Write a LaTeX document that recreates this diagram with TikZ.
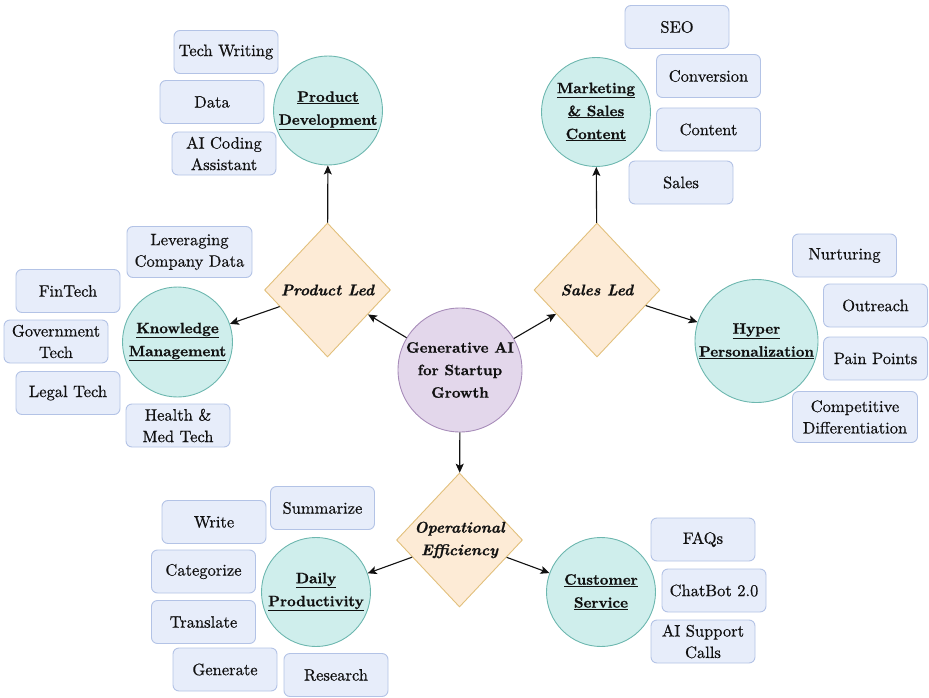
\documentclass[tikz,border=0pt]{standalone}
\usepackage{fontspec}
\setmainfont{lmroman10-regular.otf}[
  BoldFont=lmroman10-bold.otf,
  ItalicFont=lmroman10-italic.otf,
  BoldItalicFont=lmroman10-bolditalic.otf,
  UprightFeatures={FakeBold=0.6},
  BoldFeatures={FakeBold=0.9},
  BoldItalicFeatures={FakeBold=0.9}]
\usetikzlibrary{shapes.geometric,arrows.meta}

\definecolor{boxfill}{HTML}{E7EDFA}
\definecolor{boxline}{HTML}{B3C3E6}
\definecolor{topicfill}{HTML}{CFEEEC}
\definecolor{topicline}{HTML}{6DB7AF}
\definecolor{leadfill}{HTML}{FDEBD6}
\definecolor{leadline}{HTML}{E2C07C}
\definecolor{corefill}{HTML}{E3D7EB}
\definecolor{coreline}{HTML}{A78CB9}
\definecolor{ink}{HTML}{111111}

\newcommand{\ul}[1]{\underline{#1}}

\tikzset{
  x=1pt, y=-1pt,
  every node/.style={text=ink, font=\rmfamily\fontsize{16.5}{21.5}\selectfont},
  item/.style={rectangle, rounded corners=6pt, draw=boxline, fill=boxfill,
    line width=0.9pt, minimum width=104pt, minimum height=43pt,
    inner sep=2pt, align=center},
  wideitem/.style={item, minimum width=125pt, minimum height=51pt},
  topic/.style={circle, draw=topicline, fill=topicfill, line width=0.9pt,
    inner sep=0pt, align=center,
    font=\rmfamily\fontsize{15}{23}\selectfont\bfseries},
  lead/.style={diamond, draw=leadline, fill=leadfill, line width=0.9pt,
    minimum width=126pt, minimum height=134pt, inner sep=0pt},
  leadtext/.style={align=center, text=ink,
    font=\rmfamily\fontsize{15.5}{22.5}\selectfont\bfseries\itshape},
  link/.style={draw=ink, line width=1.1pt,
    -{Stealth[length=9pt, width=8pt, inset=2pt]}}
}

\begin{document}
\begin{tikzpicture}
\useasboundingbox (0,0) rectangle (929,698);

% centre of the map
\node[circle, draw=coreline, fill=corefill, line width=0.9pt,
  minimum size=124pt, inner sep=0pt, align=center,
  font=\rmfamily\fontsize{15}{22.5}\selectfont\bfseries]
  (core) at (460,370) {Generative AI\\for Startup\\Growth};

% strategy diamonds
\node[lead, label={[leadtext]center:Product Led}] (pl) at (327.5,290) {};
\node[lead, label={[leadtext]center:Sales Led}] (sl) at (597,290) {};
\node[lead, label={[leadtext]center:Operational\\Efficiency}] (oe) at (459.5,540) {};

% focus areas
\node[topic, minimum size=109pt] (pd) at (328,110.5) {\ul{Product}\\\ul{Development}};
\node[topic, minimum size=109pt] (ms) at (596,112) {\ul{Marketing}\\\ul{\& Sales}\\\ul{Content}};
\node[topic, minimum size=110pt] (km) at (177.5,342) {\ul{Knowledge}\\\ul{Management}};
\node[topic, minimum size=123pt] (hp) at (756.5,341) {\ul{Hyper}\\\ul{Personalization}};
\node[topic, minimum size=109pt] (dp) at (316,592) {\ul{Daily}\\\ul{Productivity}};
\node[topic, minimum size=109pt] (cs) at (601,592) {\ul{Customer}\\\ul{Service}};

% connectors
\draw[link] (core) -- (pl);
\draw[link] (core) -- (sl);
\draw[link] (core) -- (oe);
\draw[link] (pl) -- (pd);
\draw[link] (pl) -- (km);
\draw[link] (sl) -- (ms);
\draw[link] (sl) -- (hp);
\draw[link] (oe) -- (dp);
\draw[link] (oe) -- (cs);

% product development
\node[item] (tw) at (226,52) {Tech Writing};
\node[item] (da) at (212,102) {Data};
\node[item] (ac) at (224,153.5) {AI Coding\\Assistant};

% marketing & sales content
\node[item] (seo) at (677,27) {SEO};
\node[item] (cv) at (708.5,76) {Conversion};
\node[item] (ct) at (708.5,129.5) {Content};
\node[item] (sa) at (681,182.5) {Sales};

% knowledge management
\node[wideitem] (lcd) at (189.5,252) {Leveraging\\Company Data};
\node[item] (ft) at (68,291) {FinTech};
\node[item] (gt) at (56,341.5) {Government\\Tech};
\node[item] (lt) at (68,393) {Legal Tech};
\node[item] (hm) at (178,425.5) {Health \&\\Med Tech};

% hyper personalization
\node[item] (nu) at (844.5,255.5) {Nurturing};
\node[item] (ou) at (875.5,305.5) {Outreach};
\node[item] (pp) at (875.5,358.5) {Pain Points};
\node[wideitem] (cd) at (855,417) {Competitive\\Differentiation};

% daily productivity
\node[item] (wr) at (214,522) {Write};
\node[item] (su) at (322.5,508) {Summarize};
\node[item] (cg) at (203.5,571.5) {Categorize};
\node[item] (tr) at (203.5,622) {Translate};
\node[item] (ge) at (225,669.5) {Generate};
\node[item] (re) at (336,675) {Research};

% customer service
\node[item] (fq) at (703,539.5) {FAQs};
\node[item] (cb) at (714,590.5) {ChatBot 2.0};
\node[item] (as) at (703,641.5) {AI Support\\Calls};
\end{tikzpicture}
\end{document}
